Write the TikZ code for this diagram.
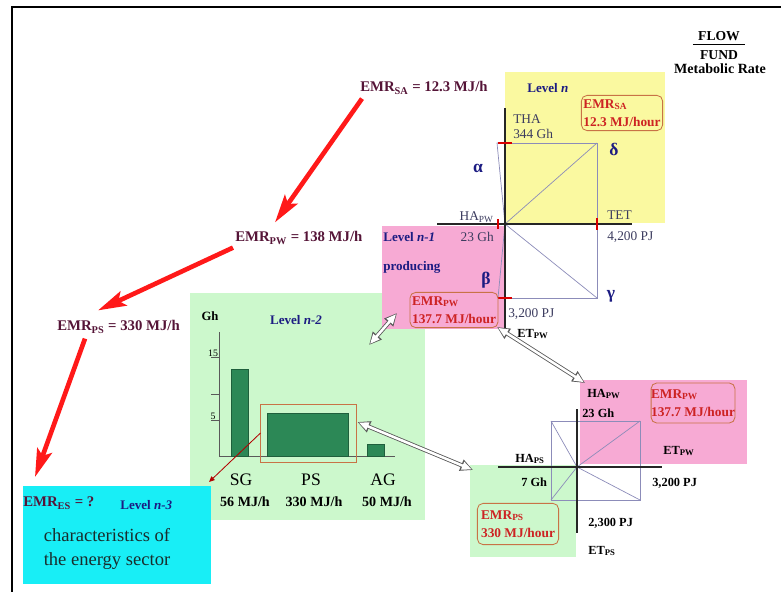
\documentclass[tikz,border=0pt]{standalone}
\usepackage{fontspec}
\setmainfont{Liberation Serif}
\usetikzlibrary{arrows.meta,calc}

\definecolor{lvlyellow}{RGB}{250,249,160}
\definecolor{lvlpink}{RGB}{247,170,212}
\definecolor{lvlgreen}{RGB}{204,248,204}
\definecolor{lvlcyan}{RGB}{24,238,246}
\definecolor{navytext}{RGB}{28,28,130}
\definecolor{emrtext}{RGB}{85,20,55}
\definecolor{boxred}{RGB}{205,35,35}
\definecolor{boxedge}{RGB}{200,115,70}
\definecolor{bargreen}{RGB}{44,136,86}
\definecolor{quadline}{RGB}{140,140,185}
\definecolor{slatetext}{RGB}{60,60,95}
\definecolor{arrowred}{RGB}{255,25,25}
\definecolor{sectortext}{RGB}{25,45,45}

\begin{document}
\begin{tikzpicture}[x=0.025cm, y=-0.025cm,
    level/.style = {anchor=north west, inner sep=0pt, outer sep=0pt},
    lvl/.style = {inner sep=0pt, text=navytext, font=\fontsize{9.3}{11}\selectfont\bfseries},
    emr/.style = {inner sep=0pt, anchor=west, text=emrtext, font=\fontsize{10.5}{12}\selectfont\bfseries},
    emrbox/.style = {draw=boxedge, line width=0.6pt, rounded corners=4pt, align=left, text=boxred, inner sep=0pt, font=\fontsize{9.5}{13}\selectfont\bfseries},
    val/.style = {inner sep=0pt, anchor=west, font=\fontsize{8.8}{10}\selectfont\bfseries},
    greek/.style = {inner sep=0pt, text=navytext, font=\fontsize{12.5}{14}\selectfont\bfseries},
    axis/.style = {line width=1.4pt, black!85},
    quad/.style = {quadline, line width=0.5pt},
    tick/.style = {red!85!black, line width=0.8pt},
    bigarrow/.style = {arrowred, line width=3.3pt, -{Stealth[length=20pt,width=11pt,inset=4pt]}},
    hollowback/.style = {gray!70!black, line width=3pt, {Triangle[length=9pt,width=8pt]}-{Triangle[length=9pt,width=8pt]}},
    hollowfront/.style = {white, line width=1.8pt, shorten <=1pt, shorten >=1pt, {Triangle[length=7pt,width=5.6pt]}-{Triangle[length=7pt,width=5.6pt]}},
    bar/.style = {fill=bargreen, draw=bargreen!70!black, line width=0.4pt}]

    \useasboundingbox (0,0) rectangle (781,592);

    % level boxes
    \node[level, fill=lvlyellow, minimum width=4cm, minimum height=3.775cm] (Ln) at (505,72) {};
    \node[level, fill=lvlgreen, minimum width=5.875cm, minimum height=5.675cm] (Ln2) at (190,293) {};
    \node[level, fill=lvlpink, minimum width=3.075cm, minimum height=2.575cm] (Ln1) at (382,226) {};
    \node[level, fill=lvlpink, minimum width=4.175cm, minimum height=2.1cm] (PW) at (580,380) {};
    \node[level, fill=lvlgreen, minimum width=2.65cm, minimum height=2.3cm] (PS) at (470,465) {};
    \node[level, fill=lvlcyan, minimum width=4.7cm, minimum height=2.45cm] (Ln3) at (23,486) {};

    % frame
    \draw[line width=2pt] (781,7) -- (12,7) -- (12,592);

    % flow over fund
    \node[inner sep=0pt, font=\fontsize{9.7}{11}\selectfont\bfseries] (flow) at (719,36) {FLOW};
    \node[inner sep=0pt, font=\fontsize{9.7}{11}\selectfont\bfseries] (fund) at (719,55) {FUND};
    \node[inner sep=0pt, font=\fontsize{10}{12}\selectfont\bfseries] (metab) at (720,69) {Metabolic Rate};
    \draw[line width=0.6pt] ($(flow.south west)+(-5,4)$) -- ($(flow.south east)+(5,4)$);

    % level n
    \node[lvl, anchor=west] (Lntxt) at (527,88) {Level \textit{n}};
    \node[emrbox, minimum width=2.03cm, minimum height=0.88cm] (EMRSA) at (622,113) {EMR\textsubscript{SA}\\12.3 MJ/hour};
    \draw[quad] (505,143) rectangle (597,224);
    \draw[quad] (505,224) -- (597,143);
    \draw[quad] (505,143) -- (497,143) -- (505,224);
    \draw[quad] (505,224) -- (498,298) -- (505,298);
    \draw[quad] (505,224) rectangle (597,298);
    \draw[quad] (505,224) -- (597,298);
    \draw[axis] (505,108) -- (505,330);
    \draw[axis] (437,224) -- (632,224);
    \draw[tick] (498,143) -- (512,143);
    \draw[tick] (597,218) -- (597,230);
    \draw[tick] (498,298) -- (512,298);
    \draw[tick] (498,219) -- (498,229);

    \node[inner sep=0pt, anchor=west, text=slatetext, font=\fontsize{9.5}{11}\selectfont] (tha) at (513,119) {THA};
    \node[inner sep=0pt, anchor=west, text=slatetext, font=\fontsize{9.5}{11}\selectfont] (thaval) at (513,134) {344 Gh};
    \node[inner sep=0pt, anchor=west, text=slatetext, font=\fontsize{9.5}{11}\selectfont] (tet) at (607,215) {TET};
    \node[inner sep=0pt, anchor=west, text=slatetext, font=\fontsize{9.5}{11}\selectfont] (tetval) at (607,237) {4,200 PJ};
    \node[inner sep=0pt, anchor=east, text=slatetext, font=\fontsize{9.5}{11}\selectfont] (hapw) at (494,217) {HA\textsubscript{PW}};
    \node[inner sep=0pt, anchor=east, text=slatetext, font=\fontsize{9.5}{11}\selectfont] (hapwval) at (494,237) {23 Gh};
    \node[inner sep=0pt, anchor=west, text=slatetext, font=\fontsize{9.5}{11}\selectfont] (etpwval) at (508,314) {3,200 PJ};
    \node[val] (etpw) at (517,334) {ET\textsubscript{PW}};
    \node[greek] (delta) at (614,149) {δ};
    \node[greek] (alpha) at (478,168) {α};
    \node[greek] (beta) at (486,280) {β};
    \node[greek] (gamma) at (611,296) {γ};

    % level n-1
    \node[lvl, anchor=west] (Ln1txt) at (383,237) {Level \textit{n-1}};
    \node[lvl, anchor=west] (prod) at (383,267) {producing};
    \node[emrbox, minimum width=2.2cm, minimum height=0.88cm] (EMRPW) at (454,310) {EMR\textsubscript{PW}\\137.7 MJ/hour};

    % level n-2
    \node[lvl] (Ln2txt) at (296,320) {Level \textit{n-2}};
    \node[inner sep=0pt, font=\fontsize{9}{11}\selectfont\bfseries] (gh) at (210,316) {Gh};
    \draw[black!65, line width=0.6pt] (219,332) -- (219,456) -- (395,456);
    \draw[black!65, line width=0.6pt] (211,357) -- (219,357);
    \draw[black!65, line width=0.6pt] (211,394) -- (219,394);
    \draw[black!65, line width=0.6pt] (211,420) -- (219,420);
    \node[inner sep=0pt, anchor=south, font=\fontsize{7}{8}\selectfont] (t15) at (213,357) {15};
    \node[inner sep=0pt, anchor=south, font=\fontsize{7}{8}\selectfont] (t5) at (213,420) {5};
    \draw[bar] (231,369) rectangle (248,456);
    \draw[bar] (267,413) rectangle (348,456);
    \draw[bar] (367,444) rectangle (384,456);
    \node[draw=boxedge, line width=0.7pt, inner sep=0pt, minimum width=2.375cm, minimum height=1.45cm] (psbox) at (308.5,433) {};
    \node[inner sep=0pt, font=\fontsize{12.5}{14}\selectfont] (sg) at (241,480) {SG};
    \node[inner sep=0pt, font=\fontsize{12.5}{14}\selectfont] (ps) at (311,480) {PS};
    \node[inner sep=0pt, font=\fontsize{12.5}{14}\selectfont] (ag) at (383,480) {AG};
    \node[inner sep=0pt, font=\fontsize{10}{12}\selectfont\bfseries] (sgval) at (245,502) {56 MJ/h};
    \node[inner sep=0pt, font=\fontsize{10}{12}\selectfont\bfseries] (psval) at (314,502) {330 MJ/h};
    \node[inner sep=0pt, font=\fontsize{10}{12}\selectfont\bfseries] (agval) at (387,502) {50 MJ/h};

    % lower quadrants
    \draw[quad] (551,421) rectangle (640,500);
    \draw[quad] (551,421) -- (577,467) -- (640,421);
    \draw[quad] (551,500) -- (577,467) -- (640,500);
    \draw[axis] (577,409) -- (577,533);
    \draw[axis] (498,467) -- (662,467);
    \node[val] (hapw2) at (587,394) {HA\textsubscript{PW}};
    \node[val] (hapw2val) at (582,413) {23 Gh};
    \node[emrbox, minimum width=2.08cm, minimum height=1cm] (EMRPW2) at (693,403) {EMR\textsubscript{PW}\\137.7 MJ/hour};
    \node[val] (etpw2) at (663,451) {ET\textsubscript{PW}};
    \node[val] (haps) at (515,459) {HA\textsubscript{PS}};
    \node[val] (hapsval) at (521,482) {7 Gh};
    \node[val] (etpw2val) at (652,483) {3,200 PJ};
    \node[val] (etpsval) at (588,523) {2,300 PJ};
    \node[val] (etps) at (588,551) {ET\textsubscript{PS}};
    \node[emrbox, minimum width=2.03cm, minimum height=1.03cm] (EMRPS) at (518,524) {EMR\textsubscript{PS}\\330 MJ/hour};

    % level n-3
    \node[emr] (emrES) at (23,503) {EMR\textsubscript{ES} = ?};
    \node[lvl, anchor=west] (Ln3txt) at (120,505) {Level \textit{n-3}};
    \node[inner sep=0pt, align=center, text=sectortext, font=\fontsize{13.2}{16.5}\selectfont] (esector) at (107,549) {characteristics of\\the energy sector};

    % metabolic rates
    \node[emr] (emrSA) at (360,88) {EMR\textsubscript{SA} = 12.3 MJ/h};
    \node[emr] (emrPW) at (235,238) {EMR\textsubscript{PW} = 138 MJ/h};
    \node[emr] (emrPS) at (57,327) {EMR\textsubscript{PS} = 330 MJ/h};

    \draw[bigarrow] ($(emrSA.south west)+(2,4)$) -- ($(emrPW.north west)+(40,-9)$);
    \draw[bigarrow] ($(emrPW.south west)+(-2,3)$) -- ($(emrPS.north west)+(41,-10)$);
    \draw[bigarrow] ($(emrPS.south west)+(28,5)$) -- ($(Ln3.north west)+(12,-9)$);
    \draw[red!70!black, line width=0.6pt, -{Triangle[length=4pt,width=3.5pt]}] (psbox.west) -- ($(Ln3.north east)+(-2,-4)$);

    \draw[hollowback] ($(Ln2.north east)+(-56,52)$) -- ($(Ln1.south west)+(15,-16)$);
    \draw[hollowfront] ($(Ln2.north east)+(-56,52)$) -- ($(Ln1.south west)+(15,-16)$);
    \draw[hollowback] ($(Ln1.south east)+(-8,-2)$) -- ($(PW.north west)+(5,3)$);
    \draw[hollowfront] ($(Ln1.south east)+(-8,-2)$) -- ($(PW.north west)+(5,3)$);
    \draw[hollowback] ($(psbox.east)+(1,-11)$) -- ($(PS.north west)+(3,5)$);
    \draw[hollowfront] ($(psbox.east)+(1,-11)$) -- ($(PS.north west)+(3,5)$);
\end{tikzpicture}
\end{document}
